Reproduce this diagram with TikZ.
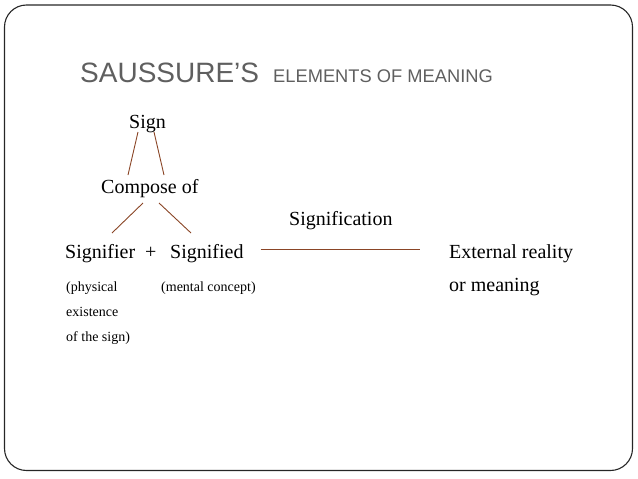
\documentclass[tikz,border=0pt]{standalone}
\usepackage{fontspec}
\setmainfont{Liberation Serif}
\newfontfamily\titlefont{Liberation Sans}
\definecolor{titlegray}{HTML}{5F5F5F}
\definecolor{linkbrown}{HTML}{8A4526}
\begin{document}
\begin{tikzpicture}[x=1pt,y=-1pt,
  txt/.style={inner sep=0pt, anchor=base west, font=\fontsize{20}{24}\selectfont},
  small/.style={inner sep=0pt, anchor=base west, font=\fontsize{14}{17}\selectfont},
  link/.style={draw=linkbrown, line width=0.9pt}]
\useasboundingbox (0,0) rectangle (638,479);
\draw[line width=1.1pt, draw=black!85, rounded corners=22pt] (4.5,5) rectangle (632.5,470.5);
% title
\node[inner sep=0pt, anchor=base west, text=titlegray, font=\titlefont\fontsize{28}{32}\selectfont] (t1) at (80,82) {SAUSSURE’S};
\node[inner sep=0pt, anchor=base west, text=titlegray, font=\titlefont\fontsize{18.3}{22}\selectfont] (t2) at (273,82) {ELEMENTS OF MEANING};
% diagram
\node[txt] (sign) at (129,128) {Sign};
\node[txt] (comp) at (101,193) {Compose of};
\node[txt] (sfr) at (65,258) {Signifier};
\node[txt] (plus) at (145,258) {+};
\node[txt] (sfd) at (170,258) {Signified};
\node[txt] (sgn) at (289,225) {Signification};
\node[txt] (ext) at (449,258) {External reality};
\node[txt] (orm) at (449,291) {or meaning};
\node[small] (phys) at (66,291) {(physical};
\node[small] (exis) at (66,316) {existence};
\node[small] (ofth) at (66,341) {of the sign)};
\node[small] (ment) at (161,291) {(mental concept)};
% connectors
\coordinate (sA) at (138,132); \coordinate (cA) at (128,175);
\coordinate (sB) at (154,132); \coordinate (cB) at (164,175);
\coordinate (cC) at (143,203); \coordinate (fA) at (112,233);
\coordinate (cD) at (159,203); \coordinate (fB) at (191,233);
\coordinate (lA) at (260.5,249.3); \coordinate (lB) at (420,249.3);
\draw[link] (sA) -- (cA);
\draw[link] (sB) -- (cB);
\draw[link] (cC) -- (fA);
\draw[link] (cD) -- (fB);
\draw[link] (lA) -- (lB);
\end{tikzpicture}
\end{document}
